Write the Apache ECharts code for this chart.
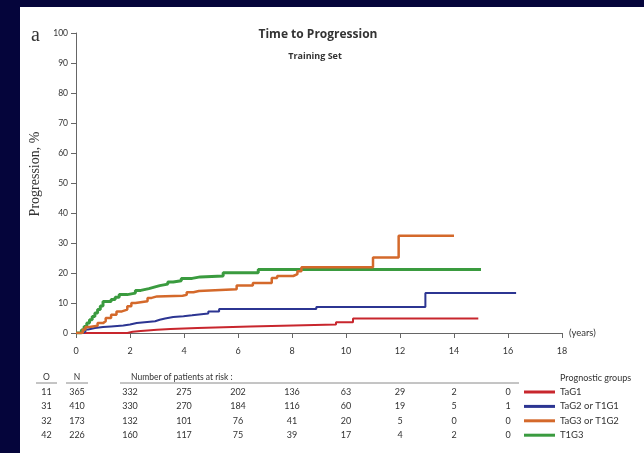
<!DOCTYPE html>
<html><head><meta charset="utf-8">
<script src="https://cdn.jsdelivr.net/npm/echarts@6/dist/echarts.min.js"></script>
<style>
html,body{margin:0;padding:0;background:#05053b;width:644px;height:453px;overflow:hidden}
#c{position:absolute;left:20px;top:7px;width:624px;height:446px;background:#fff}
</style></head><body><div id="c"></div>
<script>
// ---- data ----
const groupNames = ['TaG1', 'TaG2 or T1G1', 'TaG3 or T1G2', 'T1G3'];
const groupColors = ['#c8262d', '#2c3592', '#d4692b', '#3a9b3f'];

const tTaG1 = [0, 0.4, 1.9, 2.1, 2.4, 3.0, 3.5, 4.5, 6.45, 9.63, 10.26, 14.9];
const vTaG1 = [0, 0, 0.4, 0.7, 1.1, 1.3, 1.7, 2.2, 2.8, 3.6, 4.8, 4.8];

const tTaG2 = [0, 0.27, 0.35, 0.45, 0.7, 1.0, 1.3, 1.75, 2.0, 2.25, 2.93, 3.1, 3.3, 3.6, 3.98, 4.3, 4.9, 5.3, 8.9, 12.94, 16.3];
const vTaG2 = [0, 0.5, 1.2, 1.7, 2.0, 2.2, 2.5, 2.8, 3.3, 3.9, 4.4, 4.8, 5.3, 5.6, 5.9, 6.5, 7.2, 8.0, 8.7, 13.3, 13.3];

const tTaG3 = [0, 0.15, 0.25, 0.35, 0.5, 0.8, 1.0, 1.1, 1.3, 1.5, 1.7, 1.9, 2.05, 2.2, 2.65, 2.8, 3.0, 3.95, 4.1, 4.35, 4.55, 5.95, 6.55, 7.25, 7.45, 8.05, 8.2, 8.35, 11.0, 11.95, 14.0];
const vTaG3 = [0, 0, 1.2, 2.0, 2.4, 3.3, 3.9, 5.0, 6.1, 7.2, 7.8, 8.9, 10.0, 10.6, 11.7, 12.2, 12.4, 12.7, 13.6, 14.0, 14.6, 15.8, 16.7, 18.3, 19.0, 19.6, 20.6, 21.9, 25.2, 32.4, 32.4];

const tT1G3 = [0, 0.1, 0.2, 0.3, 0.4, 0.5, 0.6, 0.7, 0.8, 0.9, 1.0, 1.3, 1.45, 1.6, 1.9, 2.2, 2.4, 2.7, 2.9, 3.1, 3.4, 3.6, 3.9, 4.3, 4.6, 5.45, 6.75, 15.0];
const vT1G3 = [0, 0, 1.0, 2.2, 3.3, 4.4, 5.5, 6.7, 7.8, 9.0, 10.5, 11.2, 11.9, 12.8, 13.3, 14.2, 14.8, 15.3, 15.8, 16.3, 17.0, 17.4, 18.2, 18.7, 19.0, 20.1, 21.2, 21.2];

const riskYears = [2, 4, 6, 8, 10, 12, 14, 16];
const obsO = [11, 31, 32, 42];
const totalN = [365, 410, 173, 226];
const riskTaG1 = [332, 275, 202, 136, 63, 29, 2, 0];
const riskTaG2 = [330, 270, 184, 116, 60, 19, 5, 1];
const riskTaG3 = [132, 101, 76, 41, 20, 5, 0, 0];
const riskT1G3 = [160, 117, 75, 39, 17, 4, 2, 0];

// ---- chart ----
const times = [tTaG1, tTaG2, tTaG3, tT1G3];
const vals = [vTaG1, vTaG2, vTaG3, vT1G3];
const risks = [riskTaG1, riskTaG2, riskTaG3, riskT1G3];
const widths = [2, 2, 2.5, 3];
const zs = [2, 3, 5, 4];

const chart = echarts.init(document.getElementById('c'));
const numFont = 'Lato, "Open Sans", sans-serif';
const series = groupNames.map((n, i) => ({
  name: n, type: 'line', step: 'end', showSymbol: false, symbol: 'none',
  data: times[i].map((t, k) => [t, vals[i][k]]),
  lineStyle: { color: groupColors[i], width: widths[i] },
  itemStyle: { color: groupColors[i] },
  z: zs[i], animation: false
}));

chart.setOption({
  animation: false,
  backgroundColor: '#ffffff',
  grid: { left: 56, right: 82, top: 26, bottom: 120 },
  xAxis: {
    type: 'value', min: 0, max: 18, interval: 2,
    name: '(years)', nameLocation: 'end', nameGap: 7,
    nameTextStyle: { fontSize: 9.5, color: '#333', fontFamily: numFont, padding: [0, 0, 3, 0] },
    axisLine: { show: true, lineStyle: { color: '#666', width: 1 } },
    axisTick: { show: true, length: 5, lineStyle: { color: '#666' } },
    axisLabel: { fontSize: 9, color: '#333', margin: 14, fontFamily: numFont },
    splitLine: { show: false }
  },
  yAxis: {
    type: 'value', min: 0, max: 100, interval: 10,
    axisLine: { show: true, lineStyle: { color: '#666', width: 1 } },
    axisTick: { show: true, length: 5, lineStyle: { color: '#666' } },
    axisLabel: { fontSize: 8.5, color: '#333', margin: 8, fontFamily: numFont },
    splitLine: { show: false }
  },
  legend: {
    orient: 'vertical', left: 504, top: 379, padding: 0, itemWidth: 31, itemHeight: 3,
    icon: 'rect', itemGap: 2.4, selectedMode: false,
    data: groupNames,
    textStyle: { fontSize: 9.5, lineHeight: 12, color: '#333', fontFamily: numFont }
  },
  series: series
});

const OX = 20, OY = 7;
const g = [];
function txt(x, y, s, font, align, extra) {
  g.push(Object.assign({
    type: 'text', x: x - OX, y: y - OY, silent: true,
    style: { text: s, font: font, fill: '#333', textAlign: align || 'center', textVerticalAlign: 'middle' }
  }, extra || {}));
}
function hline(x1, x2, y) {
  g.push({ type: 'line', silent: true, shape: { x1: x1 - OX, y1: y - OY, x2: x2 - OX, y2: y - OY }, style: { stroke: '#8a8a8a', lineWidth: 1 } });
}
txt(31, 36, 'a', '20px "Liberation Serif", serif', 'left');
txt(35, 174, 'Progression, %', '14px "Liberation Serif", serif', 'center', { rotation: Math.PI / 2 });
txt(318, 35, 'Time to Progression', 'bold 12px "Open Sans", sans-serif', 'center');
txt(315, 56, 'Training Set', 'bold 9px "Open Sans", sans-serif', 'center');

const tf = '9px ' + numFont;
const hf = '8.5px ' + numFont;
txt(46.5, 377, 'O', hf);
txt(77, 377, 'N', hf);
txt(131, 377, 'Number of patients at risk :', hf, 'left');
hline(36, 57, 383);
hline(66, 88, 383);
hline(120, 519, 383);
txt(560, 378, 'Prognostic groups', '9px ' + numFont, 'left');

const rowY = [392, 406.4, 420.8, 435.2];
for (let r = 0; r < 4; r++) {
  txt(46.5, rowY[r], String(obsO[r]), tf);
  txt(77, rowY[r], String(totalN[r]), tf);
  riskYears.forEach((yr, k) => {
    const px = chart.convertToPixel({ xAxisIndex: 0 }, yr) + OX;
    txt(px, rowY[r], String(risks[r][k]), tf);
  });
}
chart.setOption({ graphic: { elements: g } });
</script></body></html>
